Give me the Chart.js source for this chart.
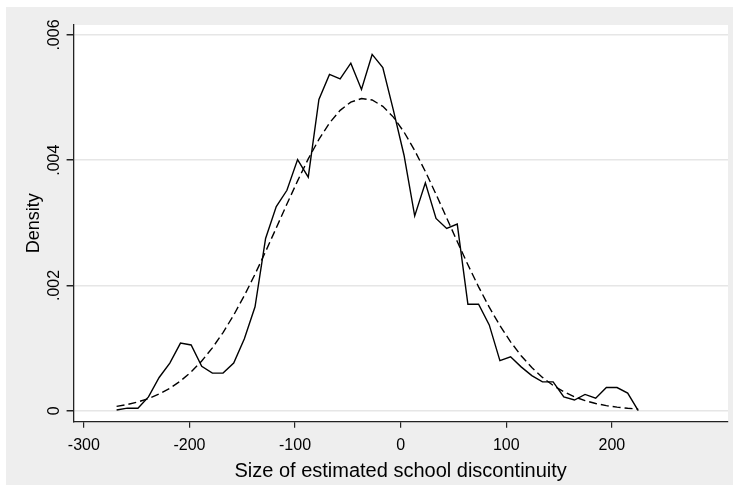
<!DOCTYPE html>
<html><head><meta charset="utf-8">
<script src="https://cdn.jsdelivr.net/npm/chart.js@4/dist/chart.umd.min.js"></script>
<style>
html,body{margin:0;padding:0;background:#fff;overflow:hidden;}
#wrap{position:absolute;left:6px;top:7px;width:727px;height:478px;background:#EEEEEE;}
canvas{display:block;}
</style></head><body>
<div id="wrap"><canvas id="c" width="727" height="478"></canvas></div>
<script>
// Evaluation points (x) of the density estimates
const gridX = [-269,-258.9,-248.8,-238.8,-228.7,-218.6,-208.5,-198.4,-188.4,-178.3,
  -168.2,-158.1,-148.0,-137.9,-127.9,-117.8,-107.7,-97.6,-87.5,-77.4,
  -67.4,-57.3,-47.2,-37.1,-27.0,-16.9,-6.9,3.2,13.3,23.4,
  33.5,43.6,53.6,63.7,73.8,83.9,94.0,104.1,114.1,124.2,
  134.3,144.4,154.5,164.6,174.6,184.7,194.8,204.9,215.0,225.0];
// Kernel density (solid line)
const kernelDensity = [0.00001,0.00004,0.00004,0.00022,0.00053,0.00076,0.00108,0.00105,0.00071,0.0006,
  0.0006,0.00076,0.00115,0.00166,0.00275,0.00326,0.00352,0.00401,0.00373,0.00497,
  0.00537,0.0053,0.00555,0.00513,0.00569,0.00548,0.0048,0.00408,0.00311,0.00364,
  0.00307,0.00291,0.00298,0.0017,0.0017,0.00137,0.0008,0.00086,0.0007,0.00056,
  0.00046,0.00046,0.00022,0.00017,0.00026,0.0002,0.00037,0.00037,0.00028,0.0];
// Normal density (dashed line)
const normalDensity = [0.000069,0.000099,0.00014,0.000194,0.000266,0.000358,0.000475,0.000619,0.000793,0.001003,
  0.001247,0.001527,0.001839,0.002181,0.002541,0.002919,0.0033,0.003671,0.004021,0.004333,
  0.004595,0.004797,0.004929,0.004985,0.004962,0.004861,0.004689,0.00445,0.004156,0.00382,
  0.003457,0.003078,0.002701,0.00233,0.001978,0.001653,0.001359,0.0011,0.000878,0.000689,
  0.000531,0.000403,0.000302,0.000222,0.000161,0.000115,0.000081,0.000056,0.000038,0.000025];
const xTicks = [-300,-200,-100,0,100,200];
const xTickLabels = ['-300','-200','-100','0','100','200'];
const yTicks = [0,0.002,0.004,0.006];
const yTickLabels = ['0','.002','.004','.006'];
const xTitle = 'Size of estimated school discontinuity';
const yTitle = 'Density';

const FONT = 'Liberation Sans, Arial, sans-serif';
const AXIS = '#222222';

const plotBg = {
  id: 'plotBg',
  beforeDraw(chart) {
    const {ctx, chartArea: a} = chart;
    ctx.save();
    ctx.fillStyle = '#ffffff';
    ctx.fillRect(a.left, a.top, a.right - a.left, a.bottom - a.top);
    ctx.restore();
  }
};

new Chart(document.getElementById('c'), {
  type: 'line',
  data: {
    datasets: [
      {
        label: 'Kernel density',
        data: gridX.map((x, i) => ({x: x, y: kernelDensity[i]})),
        borderColor: '#000000',
        borderWidth: 1.4,
        pointRadius: 0,
        tension: 0,
        fill: false
      },
      {
        label: 'Normal density',
        data: gridX.map((x, i) => ({x: x, y: normalDensity[i]})),
        borderColor: '#000000',
        borderWidth: 1.4,
        borderDash: [8, 4],
        pointRadius: 0,
        tension: 0,
        fill: false
      }
    ]
  },
  options: {
    responsive: false,
    animation: false,
    devicePixelRatio: 1,
    layout: {padding: {left: 0, top: 18, right: 5, bottom: 0}},
    plugins: {legend: {display: false}, tooltip: {enabled: false}, title: {display: false}},
    scales: {
      x: {
        type: 'linear',
        position: 'bottom',
        min: -310,
        max: 310,
        afterBuildTicks: s => { s.ticks = xTicks.map(v => ({value: v})); },
        afterFit: s => { s.height = 63.3; },
        ticks: {
          callback: (v, i) => xTickLabels[i],
          font: {family: FONT, size: 16},
          color: '#000',
          padding: 8,
          maxRotation: 0,
          minRotation: 0,
          autoSkip: false
        },
        grid: {drawOnChartArea: false, drawTicks: true, tickLength: 6, tickColor: AXIS, lineWidth: 1.2},
        border: {display: true, color: AXIS, width: 1.3},
        title: {display: true, text: xTitle, color: '#000', font: {family: FONT, size: 20}, padding: {top: 0, bottom: 1.5}}
      },
      y: {
        type: 'linear',
        position: 'left',
        min: -0.000176,
        max: 0.00616,
        afterBuildTicks: s => { s.ticks = yTicks.map(v => ({value: v})); },
        afterFit: s => { s.width = 67.3; },
        ticks: {
          callback: (v, i) => yTickLabels[i],
          font: {family: FONT, size: 16},
          color: '#000',
          padding: -4,
          minRotation: 90,
          maxRotation: 90,
          crossAlign: 'center',
          autoSkip: false
        },
        grid: {color: '#E6E6E6', lineWidth: 1.5, drawTicks: true, tickLength: 6.7, tickColor: AXIS},
        border: {display: true, color: AXIS, width: 1.3},
        title: {display: true, text: yTitle, color: '#000', font: {family: FONT, size: 18}, padding: {top: 17.7, bottom: 0}}
      }
    }
  },
  plugins: [plotBg]
});
</script>
</body></html>
